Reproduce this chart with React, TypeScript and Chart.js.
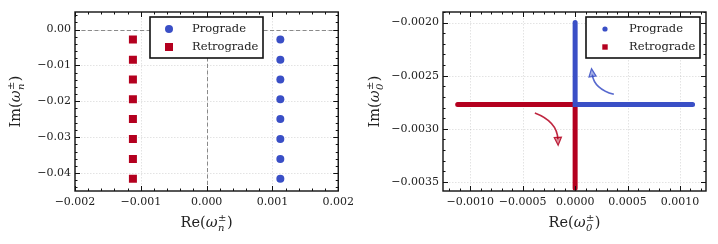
import React, { useEffect, useRef } from "react";
import { Chart, registerables } from "chart.js";
Chart.register(...registerables);

const FONT = '"DejaVu Serif", serif';
const BLUE = "#3a4fc6";
const RED = "#b4001f";

// ---- Left panel: omega_n ----
const modeIm = [-0.0028, -0.0084, -0.0139, -0.0194, -0.0249, -0.0305, -0.0361, -0.0416];
const proRe = [0.00112, 0.00112, 0.00112, 0.00112, 0.00112, 0.00112, 0.00112, 0.00112];
const retRe = [-0.00112, -0.00112, -0.00112, -0.00112, -0.00112, -0.00112, -0.00112, -0.00112];
const leftXTicks = [-0.002, -0.001, 0, 0.001, 0.002];
const leftXLabels = ["\u22120.002", "\u22120.001", "0.000", "0.001", "0.002"];
const leftYTicks = [0, -0.01, -0.02, -0.03, -0.04];
const leftYLabels = ["0.00", "\u22120.01", "\u22120.02", "\u22120.03", "\u22120.04"];

// ---- Right panel: omega_0 path ----
const proPathRe = [0, 0, 0.00112];
const proPathIm = [-0.002, -0.00277, -0.00277];
const retPathRe = [-0.00112, 0, 0];
const retPathIm = [-0.00277, -0.00277, -0.00356];
const rightXTicks = [-0.001, -0.0005, 0, 0.0005, 0.001];
const rightXLabels = ["\u22120.0010", "\u22120.0005", "0.0000", "0.0005", "0.0010"];
const rightYTicks = [-0.002, -0.0025, -0.003, -0.0035];
const rightYLabels = ["\u22120.0020", "\u22120.0025", "\u22120.0030", "\u22120.0035"];
// arrow annotations (tail -> head, data coordinates)
const arrowTailRe = [0.000369, -0.000384];
const arrowTailIm = [-0.002675, -0.002851];
const arrowHeadRe = [0.000156, -0.000162];
const arrowHeadIm = [-0.002433, -0.003155];

const seriesNames = ["Prograde", "Retrograde"];

type Panel = {
  width: number;
  L: number; R: number; T: number; B: number;
  xMin: number; xMax: number; yMin: number; yMax: number;
  xTicks: number[]; xLabels: string[]; yTicks: number[]; yLabels: string[];
  xMinor: number; yMinor: number;
  datasets: any[];
  zeroLines: boolean;
  legend: { x: number; y: number; w: number; h: number; mx: number; tx: number; rows: number[]; big: boolean };
  sub: string;
  arrows: boolean;
};

function drawMath(ctx: CanvasRenderingContext2D, cx: number, cy: number, prefix: string, sub: string, vertical: boolean) {
  const main = `14.5px ${FONT}`;
  const ital = `italic 14.5px ${FONT}`;
  const small = `10px ${FONT}`;
  const smallIt = `italic 10px ${FONT}`;
  ctx.save();
  ctx.font = main;
  const w1 = ctx.measureText(prefix + "(").width;
  const w4 = ctx.measureText(")").width;
  ctx.font = ital;
  const w2 = ctx.measureText("\u03C9").width;
  ctx.font = small;
  const ws = ctx.measureText("\u00B1").width;
  ctx.font = smallIt;
  const wb = ctx.measureText(sub).width;
  const w3 = Math.max(ws, wb) + 1;
  const total = w1 + w2 + w3 + w4;
  ctx.translate(cx, cy);
  if (vertical) ctx.rotate(-Math.PI / 2);
  ctx.fillStyle = "#222";
  ctx.textBaseline = "alphabetic";
  ctx.textAlign = "left";
  let x = -total / 2;
  const base = 5;
  ctx.font = main;
  ctx.fillText(prefix + "(", x, base);
  x += w1;
  ctx.font = ital;
  ctx.fillText("\u03C9", x, base);
  x += w2;
  ctx.font = small;
  ctx.fillText("\u00B1", x + 0.5, base - 6.5);
  ctx.font = smallIt;
  ctx.fillText(sub, x + 0.5, base + 3.5);
  x += w3;
  ctx.font = main;
  ctx.fillText(")", x, base);
  ctx.restore();
}

function makePlugin(p: Panel) {
  return {
    id: "panelDecor",
    beforeDatasetsDraw(chart: any) {
      const { ctx, chartArea: a, scales } = chart;
      const xs = scales.x, ys = scales.y;
      ctx.save();
      ctx.strokeStyle = "rgba(0,0,0,0.14)";
      ctx.lineWidth = 0.8;
      ctx.setLineDash([1.5, 1.5]);
      for (const v of p.xTicks) {
        const px = Math.round(xs.getPixelForValue(v)) + 0.5;
        ctx.beginPath(); ctx.moveTo(px, a.top); ctx.lineTo(px, a.bottom); ctx.stroke();
      }
      for (const v of p.yTicks) {
        const py = Math.round(ys.getPixelForValue(v)) + 0.5;
        ctx.beginPath(); ctx.moveTo(a.left, py); ctx.lineTo(a.right, py); ctx.stroke();
      }
      if (p.zeroLines) {
        ctx.strokeStyle = "#8a8a8a";
        ctx.lineWidth = 1;
        ctx.setLineDash([4, 2.5]);
        const px = Math.round(xs.getPixelForValue(0)) + 0.5;
        const py = Math.round(ys.getPixelForValue(0)) + 0.5;
        ctx.beginPath(); ctx.moveTo(px, a.top); ctx.lineTo(px, a.bottom); ctx.stroke();
        ctx.beginPath(); ctx.moveTo(a.left, py); ctx.lineTo(a.right, py); ctx.stroke();
      }
      ctx.restore();
    },
    afterDatasetsDraw(chart: any) {
      const { ctx, chartArea: a, scales } = chart;
      const xs = scales.x, ys = scales.y;
      ctx.save();
      // arrows
      if (p.arrows) {
        const cols = ["rgba(58,79,198,0.85)", "rgba(180,0,31,0.85)"];
        const fills = ["rgba(58,79,198,0.45)", "rgba(180,0,31,0.45)"];
        for (let i = 0; i < arrowTailRe.length; i++) {
          const x0 = xs.getPixelForValue(arrowTailRe[i]);
          const y0 = ys.getPixelForValue(arrowTailIm[i]);
          const x2 = xs.getPixelForValue(arrowHeadRe[i]);
          const y2 = ys.getPixelForValue(arrowHeadIm[i]);
          const rad = -0.33;
          const mx = (x0 + x2) / 2, my = (y0 + y2) / 2;
          const dx = x2 - x0, dyd = -(y2 - y0);
          const cxp = mx + rad * dyd;
          const cyp = my + rad * dx;
          let ux = x2 - cxp, uy = y2 - cyp;
          const n = Math.hypot(ux, uy); ux /= n; uy /= n;
          const hl = 8, hw = 3.6;
          const bx = x2 - ux * hl, by = y2 - uy * hl;
          ctx.strokeStyle = cols[i];
          ctx.lineWidth = 1.6;
          ctx.setLineDash([]);
          ctx.beginPath();
          ctx.moveTo(x0, y0);
          ctx.quadraticCurveTo(cxp, cyp, bx + ux * 2, by + uy * 2);
          ctx.stroke();
          ctx.beginPath();
          ctx.moveTo(x2, y2);
          ctx.lineTo(bx - uy * hw, by + ux * hw);
          ctx.lineTo(bx + uy * hw, by - ux * hw);
          ctx.closePath();
          ctx.fillStyle = fills[i];
          ctx.fill();
          ctx.lineWidth = 1.2;
          ctx.stroke();
        }
      }
      // frame
      ctx.setLineDash([]);
      ctx.strokeStyle = "#111";
      ctx.lineWidth = 1.4;
      ctx.strokeRect(a.left, a.top, a.right - a.left, a.bottom - a.top);
      // ticks
      ctx.lineWidth = 1;
      const near = (v: number, arr: number[], eps: number) => arr.some((t) => Math.abs(t - v) < eps);
      const xTick = (v: number, len: number) => {
        const px = Math.round(xs.getPixelForValue(v)) + 0.5;
        ctx.beginPath();
        ctx.moveTo(px, a.bottom); ctx.lineTo(px, a.bottom - len);
        ctx.moveTo(px, a.top); ctx.lineTo(px, a.top + len);
        ctx.stroke();
      };
      const yTick = (v: number, len: number) => {
        const py = Math.round(ys.getPixelForValue(v)) + 0.5;
        ctx.beginPath();
        ctx.moveTo(a.left, py); ctx.lineTo(a.left + len, py);
        ctx.moveTo(a.right, py); ctx.lineTo(a.right - len, py);
        ctx.stroke();
      };
      for (const v of p.xTicks) xTick(v, 5);
      for (const v of p.yTicks) yTick(v, 5);
      for (let k = Math.ceil(p.xMin / p.xMinor - 1e-6); k * p.xMinor <= p.xMax + 1e-12; k++) {
        const v = k * p.xMinor;
        if (!near(v, p.xTicks, p.xMinor / 3)) xTick(v, 2.5);
      }
      for (let k = Math.ceil(p.yMin / p.yMinor - 1e-6); k * p.yMinor <= p.yMax + 1e-12; k++) {
        const v = k * p.yMinor;
        if (!near(v, p.yTicks, p.yMinor / 3)) yTick(v, 2.5);
      }
      // legend
      const lg = p.legend;
      ctx.fillStyle = "#fff";
      ctx.fillRect(lg.x, lg.y, lg.w, lg.h);
      ctx.strokeStyle = "#111";
      ctx.lineWidth = 1.6;
      ctx.strokeRect(lg.x, lg.y, lg.w, lg.h);
      ctx.font = `11.5px ${FONT}`;
      ctx.textBaseline = "middle";
      ctx.textAlign = "left";
      lg.rows.forEach((ry, i) => {
        if (i === 0) {
          ctx.fillStyle = BLUE;
          ctx.beginPath();
          ctx.arc(lg.mx, ry, lg.big ? 4 : 2.6, 0, Math.PI * 2);
          ctx.fill();
        } else {
          ctx.fillStyle = RED;
          const s = lg.big ? 8 : 5.4;
          ctx.fillRect(lg.mx - s / 2, ry - s / 2, s, s);
        }
        ctx.fillStyle = "#222";
        ctx.fillText(seriesNames[i], lg.tx, ry + 0.5);
      });
      // axis titles
      drawMath(ctx, (a.left + a.right) / 2, 222, "Re", p.sub, false);
      drawMath(ctx, 15, (a.top + a.bottom) / 2, "Im", p.sub, true);
      ctx.restore();
    },
  };
}

function PanelChart({ p }: { p: Panel }) {
  const ref = useRef<HTMLCanvasElement | null>(null);
  useEffect(() => {
    if (!ref.current) return;
    const tickFont = { family: FONT, size: 11 };
    const chart = new Chart(ref.current, {
      type: "scatter",
      data: { datasets: p.datasets },
      options: {
        animation: false,
        responsive: false,
        devicePixelRatio: 1,
        layout: { padding: { left: 0, right: p.R, top: p.T, bottom: 0 } },
        plugins: { legend: { display: false }, tooltip: { enabled: false } },
        scales: {
          x: {
            type: "linear",
            min: p.xMin,
            max: p.xMax,
            grid: { display: false, drawTicks: false },
            border: { display: false },
            ticks: {
              font: tickFont,
              color: "#222",
              padding: 5,
              autoSkip: false,
              maxRotation: 0,
              callback: (_v: any, i: number) => p.xLabels[i],
            },
            afterBuildTicks: (s: any) => {
              s.ticks = p.xTicks.map((v) => ({ value: v }));
            },
            afterFit: (s: any) => {
              s.height = p.B;
            },
          },
          y: {
            type: "linear",
            min: p.yMin,
            max: p.yMax,
            grid: { display: false, drawTicks: false },
            border: { display: false },
            ticks: {
              font: tickFont,
              color: "#222",
              padding: 4,
              autoSkip: false,
              callback: (_v: any, i: number) => p.yLabels[i],
            },
            afterBuildTicks: (s: any) => {
              s.ticks = p.yTicks.map((v) => ({ value: v }));
            },
            afterFit: (s: any) => {
              s.width = p.L;
            },
          },
        },
      } as any,
      plugins: [makePlugin(p) as any],
    });
    return () => chart.destroy();
  }, [p]);
  return <canvas ref={ref} width={p.width} height={244} style={{ display: "block", width: p.width, height: 244 }} />;
}

const leftPanel: Panel = {
  width: 359,
  L: 75, R: 20, T: 12, B: 53,
  xMin: -0.002, xMax: 0.002, yMin: -0.045, yMax: 0.0049,
  xTicks: leftXTicks, xLabels: leftXLabels, yTicks: leftYTicks, yLabels: leftYLabels,
  xMinor: 0.0002, yMinor: 0.002,
  datasets: [
    {
      label: seriesNames[0],
      data: proRe.map((x, i) => ({ x, y: modeIm[i] })),
      pointStyle: "circle",
      pointRadius: 4,
      pointBorderWidth: 0,
      backgroundColor: BLUE,
      borderColor: BLUE,
    },
    {
      label: seriesNames[1],
      data: retRe.map((x, i) => ({ x, y: modeIm[i] })),
      pointStyle: "rect",
      pointRadius: 5.66,
      pointBorderWidth: 0,
      backgroundColor: RED,
      borderColor: RED,
    },
  ],
  zeroLines: true,
  legend: { x: 150, y: 17, w: 113, h: 41, mx: 169, tx: 192, rows: [29, 47], big: true },
  sub: "n",
  arrows: false,
};

const rightPanel: Panel = {
  width: 359,
  L: 84, R: 12, T: 12, B: 53,
  xMin: -0.00126, xMax: 0.001248, yMin: -0.003585, yMax: -0.0019,
  xTicks: rightXTicks, xLabels: rightXLabels, yTicks: rightYTicks, yLabels: rightYLabels,
  xMinor: 0.0001, yMinor: 0.0001,
  datasets: [
    {
      label: seriesNames[0],
      data: proPathRe.map((x, i) => ({ x, y: proPathIm[i] })),
      showLine: true,
      pointRadius: 0,
      borderWidth: 5,
      borderColor: BLUE,
      backgroundColor: BLUE,
      borderCapStyle: "round",
      borderJoinStyle: "miter",
    },
    {
      label: seriesNames[1],
      data: retPathRe.map((x, i) => ({ x, y: retPathIm[i] })),
      showLine: true,
      pointRadius: 0,
      borderWidth: 5,
      borderColor: RED,
      backgroundColor: RED,
      borderCapStyle: "round",
      borderJoinStyle: "miter",
    },
  ],
  zeroLines: false,
  legend: { x: 227, y: 17, w: 114, h: 41, mx: 246, tx: 270, rows: [29, 47], big: false },
  sub: "0",
  arrows: true,
};

export default function App() {
  useEffect(() => {
    document.body.style.margin = "0";
  }, []);
  return (
    <div style={{ position: "absolute", left: 0, top: 0, width: 718, height: 244, display: "flex", background: "#fff" }}>
      <PanelChart p={leftPanel} />
      <PanelChart p={rightPanel} />
    </div>
  );
}
